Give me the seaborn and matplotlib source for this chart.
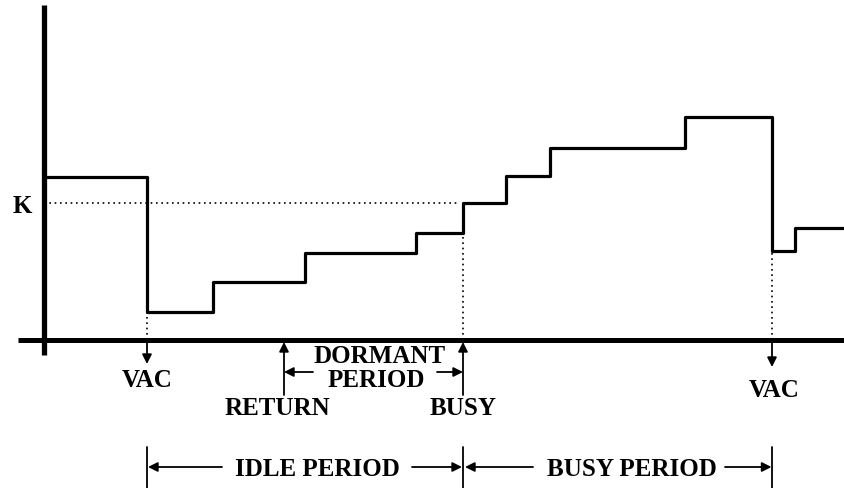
import matplotlib
matplotlib.use("Agg")
import matplotlib.pyplot as plt
import seaborn as sns

# ---------------- data ----------------
step_times = [0, 10.3, 16.9, 26.1, 37.2, 41.9, 46.2, 50.6, 64.1, 72.8, 75.1, 79.9]
step_levels = [5.95, 1.02, 2.12, 3.18, 3.9, 5.0, 5.99, 7.0, 8.14, 3.25, 4.09]
K_level = 5.0
vac_times = [10.3, 72.8]
return_time = 24.0
busy_time = 41.9

# ---------------- layout helpers ----------------
W, H = 845, 488
PX_X, PX_Y = 10.0, 27.4      # pixels per unit
X0_PX, Y0_PX = 44, 340       # pixel position of the origin


def row(r):
    """pixel row (from top) -> level units"""
    return (Y0_PX - r) / PX_Y


def col(c):
    """pixel column -> time units"""
    return (c - X0_PX) / PX_X


sns.set_theme(style="white")
plt.rcParams["font.family"] = ["Liberation Serif", "DejaVu Serif"]
plt.rcParams["text.color"] = "black"
FS = 18
TXT = dict(fontsize=FS, fontweight="bold", color="black", ha="center", va="baseline")

fig = plt.figure(figsize=(W / 100, H / 100), dpi=100)
ax = fig.add_axes([0, 0, 1, 1])
ax.set_xlim(col(0), col(W))
ax.set_ylim(row(H), row(0))
ax.axis("off")

# axes lines
ax.plot([0, 0], [row(355), row(5)], color="black", lw=3.8, solid_capstyle="butt")
ax.plot([col(18), col(W)], [0, 0], color="black", lw=3.6, solid_capstyle="butt")

# step function
df_x = step_times
df_y = step_levels + [step_levels[-1]]
sns.lineplot(x=df_x, y=df_y, drawstyle="steps-post", color="black", lw=2.3,
             ax=ax, legend=False, sort=False)

DOT = (0, (1, 2.2))
# K dotted line
ax.plot([0, busy_time - 0.4], [K_level, K_level], color="black", lw=1.2,
        linestyle=DOT)
ax.text(col(22), row(213), "K", **TXT)


def level_at(t, after=True):
    for i in range(len(step_times) - 1):
        if step_times[i] <= t < step_times[i + 1]:
            return step_levels[i] if after else step_levels[i - 1]
    return step_levels[-1]


# dotted verticals
for t, after in [(vac_times[0], True), (busy_time, False), (vac_times[1], True)]:
    ax.plot([t, t], [0, level_at(t, after)], color="black", lw=1.2,
            linestyle=DOT)

ap = dict(arrowstyle="-|>", color="black", lw=1.3, mutation_scale=14,
          shrinkA=0, shrinkB=0)

# VAC down arrows
ax.annotate("", xy=(vac_times[0], row(364)), xytext=(vac_times[0], row(342)),
            arrowprops=ap)
ax.annotate("", xy=(vac_times[1], row(367)), xytext=(vac_times[1], row(342)),
            arrowprops=ap)
ax.text(vac_times[0], row(387), "VAC", **TXT)
ax.text(vac_times[1] + 0.2, row(397), "VAC", **TXT)

# RETURN / BUSY up arrows
for t in [return_time, busy_time]:
    ax.annotate("", xy=(t, row(342)), xytext=(t, row(395)), arrowprops=ap)
ax.text(return_time - 0.7, row(415), "RETURN", **TXT)
ax.text(busy_time, row(415), "BUSY", **TXT)

# DORMANT PERIOD
ax.text(col(380), row(363), "DORMANT", **TXT)
ax.text(col(376), row(387), "PERIOD", **TXT)
ax.annotate("", xy=(return_time, row(372)), xytext=(col(313), row(372)),
            arrowprops=ap)
ax.annotate("", xy=(busy_time, row(372)), xytext=(col(437), row(372)),
            arrowprops=ap)

# bottom period bars
for t in [vac_times[0], busy_time, vac_times[1]]:
    ax.plot([t, t], [row(447), row(H)], color="black", lw=1.3)

yb = row(467)
ax.annotate("", xy=(vac_times[0] + 0.1, yb), xytext=(col(222), yb), arrowprops=ap)
ax.annotate("", xy=(busy_time - 0.1, yb), xytext=(col(412), yb), arrowprops=ap)
ax.annotate("", xy=(busy_time + 0.2, yb), xytext=(col(533), yb), arrowprops=ap)
ax.annotate("", xy=(vac_times[1] - 0.05, yb), xytext=(col(725), yb), arrowprops=ap)
ax.text(col(317), row(476), "IDLE PERIOD", **TXT)
ax.text(col(632), row(476), "BUSY PERIOD", **TXT)

fig.savefig("out.png", dpi=100, facecolor="white")
